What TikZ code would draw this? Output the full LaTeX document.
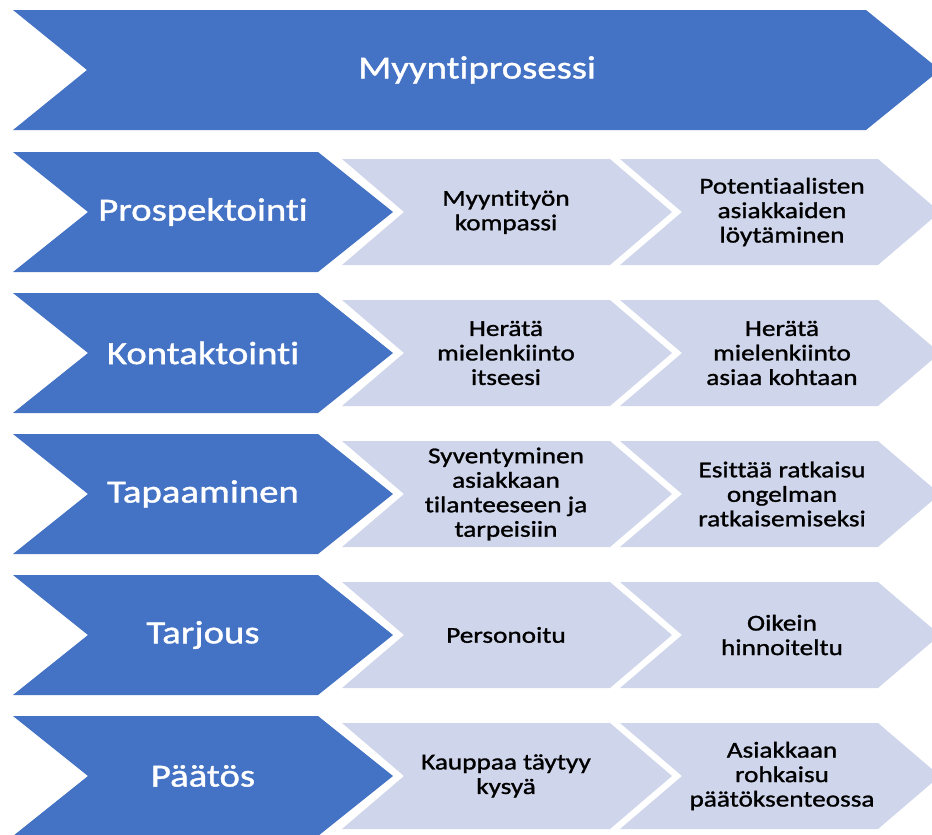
\documentclass[tikz,border=0pt]{standalone}
\usepackage{fontspec}
\setmainfont{Carlito}[FakeStretch=1.2, Ligatures=NoCommon]
\newfontfamily\semifont{Carlito}[FakeStretch=1.2, FakeBold=1.2, Ligatures=NoCommon]
\definecolor{accblue}{HTML}{4472C4}
\definecolor{acclight}{HTML}{CFD5EA}
\newcommand\chevpath[6]{%
  \fill[#1] (#2,#4-#5) -- (#3,#4-#5) -- (#3+#6,#4) -- (#3,#4+#5) -- (#2,#4+#5) -- (#2+#6,#4) -- cycle;}
\tikzset{
  bluetext/.style={text=white, align=center, font=\semifont\fontsize{32.3}{38}\selectfont},
  lighttext/.style={text=black, align=center, font=\semifont\fontsize{22.7}{24.5}\selectfont},
}
\begin{document}
\begin{tikzpicture}[x=1pt,y=-1pt]
\useasboundingbox (0,0) rectangle (932,835);
\clip (0,0) rectangle (932,835);
% banner
\chevpath{accblue}{13}{866}{70}{60}{74}
\node[bluetext] (title) at (477,70) {Myyntiprosessi};
% rows
\foreach \yc/\lab/\na/\ta/\nb/\tb in {
  212/Prospektointi/r1a/{Myyntityön\\kompassi}/r1b/{Potentiaalisten\\asiakkaiden\\löytäminen},
  353/Kontaktointi/r2a/{Herätä\\mielenkiinto\\itseesi}/r2b/{Herätä\\mielenkiinto\\asiaa kohtaan},
  494/Tapaaminen/r3a/{Syventyminen\\asiakkaan\\tilanteeseen ja\\tarpeisiin}/r3b/{Esittää ratkaisu\\ongelman\\ratkaisemiseksi},
  635/Tarjous/r4a/{Personoitu}/r4b/{Oikein\\hinnoiteltu},
  776/Päätös/r5a/{Kauppaa täytyy\\kysyä}/r5b/{Asiakkaan\\rohkaisu\\päätöksenteossa}} {
  \chevpath{acclight}{342}{610}{\yc}{53}{62}
  \chevpath{acclight}{620}{878}{\yc}{53}{62}
  \chevpath{accblue}{13}{318}{\yc}{60}{75}
  \node[bluetext] (h\na) at (203,\yc) {\lab};
  \node[lighttext] (\na) at (506,\yc) {\ta};
  \node[lighttext] (\nb) at (782,\yc) {\tb};
}
\end{tikzpicture}
\end{document}
